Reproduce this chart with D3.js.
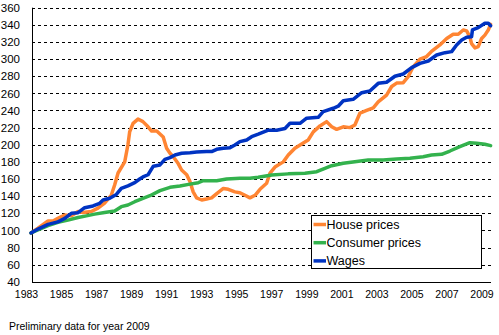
<!DOCTYPE html>
<html>
<head>
<meta charset="utf-8">
<script src="https://cdn.jsdelivr.net/npm/d3@7"></script>
<style>
  body { margin: 0; background: #fff; }
  svg { display: block; font-family: "Liberation Sans", Arial, sans-serif; }
</style>
</head>
<body>
<svg id="chart" width="499" height="335"></svg>
<script>
// index series, 1983 = ~100  ([year, value])
var housePrices = [
  [1983.0, 97], [1983.41, 102.5], [1984.0, 111], [1984.29, 111], [1984.58, 114], [1984.98, 118],
  [1985.37, 117], [1985.76, 122], [1986.05, 121], [1986.54, 122], [1986.93, 126], [1987.32, 132],
  [1987.71, 141], [1987.91, 153], [1988.11, 167], [1988.5, 180], [1988.69, 200], [1988.79, 215],
  [1988.99, 225], [1989.28, 230], [1989.57, 227], [1989.87, 221], [1990.08, 216], [1990.38, 216],
  [1990.76, 209], [1990.96, 196], [1991.16, 190], [1991.35, 186], [1991.64, 178], [1991.84, 170.5],
  [1992.14, 165], [1992.33, 157], [1992.52, 145], [1992.72, 138], [1993.02, 135.5], [1993.31, 136.7],
  [1993.6, 138], [1993.9, 143], [1994.29, 149], [1994.58, 148], [1994.97, 145], [1995.26, 144],
  [1995.56, 141], [1995.85, 138], [1996.15, 141], [1996.44, 148], [1996.83, 155], [1997.03, 167],
  [1997.32, 174], [1997.81, 180], [1998.1, 188], [1998.49, 196], [1998.98, 202], [1999.27, 205.5],
  [1999.57, 215], [1999.96, 222], [2000.35, 227], [2000.65, 221], [2000.94, 218], [2001.33, 221],
  [2001.72, 220], [2002.01, 223], [2002.31, 237], [2002.7, 240], [2003.09, 243], [2003.38, 250],
  [2003.87, 258], [2004.17, 268], [2004.46, 272], [2004.85, 272.5], [2005.14, 279.5], [2005.43, 291],
  [2005.83, 300], [2006.22, 303], [2006.51, 309], [2007.0, 316.5], [2007.4, 324], [2007.78, 329],
  [2008.08, 329], [2008.37, 334], [2008.57, 333], [2008.76, 326], [2008.86, 318], [2009.06, 313],
  [2009.25, 314.5], [2009.45, 324], [2009.64, 328], [2009.84, 334], [2009.98, 340.6]
];

var consumerPrices = [
  [1983.0, 97], [1983.41, 100.5], [1984.0, 105.5], [1984.58, 109.5], [1985.17, 112], [1985.76, 115],
  [1986.25, 117], [1986.74, 119], [1987.32, 121], [1987.91, 122.7], [1988.3, 127.7], [1988.69, 129.7],
  [1989.09, 133.5], [1989.57, 137.5], [1989.98, 140.5], [1990.57, 146.4], [1991.16, 150.3], [1991.74, 151.8],
  [1992.33, 154], [1992.82, 155.7], [1993.11, 158], [1993.9, 158], [1994.48, 160], [1995.26, 160.8],
  [1995.85, 160.8], [1996.34, 162], [1997.13, 164.7], [1998.1, 166], [1999.08, 166.7], [1999.77, 168.5],
  [2000.25, 172.5], [2000.65, 175.5], [2001.33, 178.4], [2002.01, 180.2], [2002.79, 182.2], [2003.67, 182.2],
  [2004.46, 183.4], [2005.24, 184.2], [2006.02, 186], [2006.51, 188], [2007.1, 188.8], [2007.59, 192.7],
  [2008.17, 197.7], [2008.76, 202.4], [2009.16, 201.7], [2009.64, 200.5], [2009.98, 199]
];

var wages = [
  [1983.0, 97], [1983.41, 101.6], [1984.0, 107], [1984.58, 110], [1984.98, 114], [1985.37, 120],
  [1985.76, 120.7], [1986.15, 126.5], [1986.64, 128.5], [1987.03, 131.6], [1987.23, 135.5], [1987.62, 137.5],
  [1988.01, 142], [1988.3, 149], [1988.69, 152], [1989.09, 155.7], [1989.38, 160], [1989.57, 162.4],
  [1989.87, 165], [1990.18, 175], [1990.57, 176.4], [1990.86, 183], [1991.16, 185], [1991.45, 188],
  [1991.84, 190], [1992.33, 190.7], [1992.72, 191.5], [1993.31, 192], [1993.6, 192], [1993.9, 194.7],
  [1994.29, 196], [1994.68, 196.6], [1994.97, 199.7], [1995.26, 203.6], [1995.66, 205.6], [1995.95, 209.4],
  [1996.34, 212.3], [1996.93, 217], [1997.42, 217], [1997.91, 219], [1998.2, 225], [1998.79, 225],
  [1999.18, 231], [1999.86, 232], [2000.15, 238.6], [2000.74, 242.6], [2001.03, 245], [2001.33, 251.4],
  [2001.91, 253], [2002.41, 260.8], [2002.89, 262.8], [2003.38, 271.7], [2003.87, 273], [2004.36, 280],
  [2004.85, 282.6], [2005.34, 290], [2005.83, 295], [2006.32, 297.8], [2006.81, 304.8], [2007.3, 307.5],
  [2007.69, 308.7], [2007.98, 316.5], [2008.28, 322.3], [2008.57, 325.5], [2008.86, 326], [2008.91, 334],
  [2009.25, 336.7], [2009.64, 341.8], [2009.84, 341.8], [2009.98, 339]
];

var yearLabels = ["1983", "1985", "1987", "1989", "1991", "1993", "1995", "1997",
                  "1999", "2001", "2003", "2005", "2007", "2009"];
var yTicks = d3.range(40, 361, 20);

var seriesNames = ["House prices", "Consumer prices", "Wages"];
var seriesColors = ["#ff8533", "#33b24d", "#0033c2"];

var svg = d3.select("#chart");

var plotLeft = 32, plotRight = 491, plotTop = 7.7, plotBottom = 281.8;

var x = d3.scaleLinear().domain([1983, 2010]).range([31, plotRight]);
var xLabel = d3.scalePoint().domain(yearLabels).range([26, 481.5]);
var y = d3.scaleLinear().domain([40, 360]).range([plotBottom, plotTop]);

// dashed gridlines
svg.append("g")
  .selectAll("line")
  .data(yTicks.filter(function(d) { return d > 40; }))
  .enter().append("line")
    .attr("x1", plotLeft).attr("x2", plotRight)
    .attr("y1", function(d) { return Math.round(y(d)) + 0.5; })
    .attr("y2", function(d) { return Math.round(y(d)) + 0.5; })
    .attr("stroke", "#000")
    .attr("stroke-width", 1)
    .attr("stroke-dasharray", "3,3");

// y labels
var yAxis = svg.append("g")
  .attr("transform", "translate(" + plotLeft + ",0)")
  .call(d3.axisLeft(y).tickValues(yTicks).tickSize(0).tickPadding(12));
yAxis.select(".domain").remove();
yAxis.selectAll("text")
  .attr("font-size", "11.5px")
  .attr("font-family", "Liberation Sans, Arial, sans-serif")
  .attr("fill", "#000");

// x labels
var xAxis = svg.append("g")
  .attr("transform", "translate(0," + plotBottom + ")")
  .call(d3.axisBottom(xLabel).tickSize(0).tickPadding(9));
xAxis.select(".domain").remove();
xAxis.selectAll("text")
  .attr("font-size", "10.5px")
  .attr("font-family", "Liberation Sans, Arial, sans-serif")
  .attr("fill", "#000");

// axis lines
svg.append("line")
  .attr("x1", plotLeft + 0.5).attr("x2", plotLeft + 0.5)
  .attr("y1", plotTop).attr("y2", plotBottom + 0.5)
  .attr("stroke", "#000");
svg.append("line")
  .attr("x1", plotLeft).attr("x2", plotRight)
  .attr("y1", Math.round(plotBottom) + 0.5).attr("y2", Math.round(plotBottom) + 0.5)
  .attr("stroke", "#000");

var line = d3.line()
  .x(function(d) { return x(d[0]); })
  .y(function(d) { return y(d[1]); });

var allSeries = [housePrices, consumerPrices, wages];

svg.append("g")
  .selectAll("path")
  .data(allSeries)
  .enter().append("path")
    .attr("d", line)
    .attr("fill", "none")
    .attr("stroke", function(d, i) { return seriesColors[i]; })
    .attr("stroke-width", 3.5)
    .attr("stroke-linejoin", "round")
    .attr("stroke-linecap", "round");

// legend
var legend = svg.append("g").attr("transform", "translate(311,215)");
legend.append("rect")
  .attr("x", 0.5).attr("y", 0.5)
  .attr("width", 170).attr("height", 53)
  .attr("fill", "#fff")
  .attr("stroke", "#000");

var item = legend.selectAll(".item")
  .data(seriesNames)
  .enter().append("g")
    .attr("class", "item")
    .attr("transform", function(d, i) { return "translate(0," + (9.5 + i * 18.2) + ")"; });

item.append("line")
  .attr("x1", 2.5).attr("x2", 15)
  .attr("stroke", function(d, i) { return seriesColors[i]; })
  .attr("stroke-width", 3.5);

item.append("text")
  .attr("x", 15.5)
  .attr("dy", "0.35em")
  .attr("font-size", "12.5px")
  .attr("fill", "#000")
  .text(function(d) { return d; });

svg.append("text")
  .attr("x", 9)
  .attr("y", 330)
  .attr("font-size", "10.5px")
  .attr("fill", "#000")
  .text("Preliminary data for year 2009");
</script>
</body>
</html>
